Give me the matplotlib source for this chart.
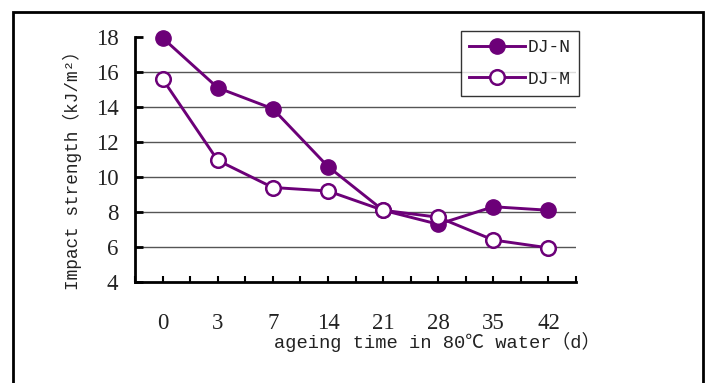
import numpy as np
import matplotlib.pyplot as plt
from matplotlib.patches import Rectangle
from matplotlib.lines import Line2D

# data
days = ['0', '3', '7', '14', '21', '28', '35', '42']
dj_n = [17.95, 15.1, 13.9, 10.6, 8.1, 7.3, 8.3, 8.1]
dj_m = [15.6, 10.95, 9.4, 9.2, 8.1, 7.7, 6.4, 5.95]
yticks = [4, 6, 8, 10, 12, 14, 16, 18]

purple = '#6c0078'
serif = ['Liberation Serif', 'DejaVu Serif']
mono = ['Liberation Mono', 'Noto Sans CJK SC', 'DejaVu Sans']

fig = plt.figure(figsize=(7.07, 3.83), dpi=100)
W, H = 707, 383

# outer chart frame
fig.patches.append(Rectangle((13 / W, -0.05), (703 - 13) / W, 1.05 - 12 / H,
                             transform=fig.transFigure, fill=False,
                             edgecolor='black', linewidth=2))

ax = fig.add_axes([135 / W, 1 - 282 / H, (576 - 135) / W, (282 - 37) / H])
x = np.arange(len(days))

ax.plot(x, dj_n, color=purple, lw=2.1, marker='o', ms=11,
        mfc=purple, mec=purple, zorder=3, clip_on=False)
ax.plot(x, dj_m, color=purple, lw=2.1, marker='o', ms=10.5,
        mfc='white', mec=purple, mew=1.8, zorder=3, clip_on=False)

ax.set_xlim(-0.5, len(days) - 0.5)
ax.set_ylim(4, 18)
ax.set_yticks(yticks)
ax.set_xticks(x)
ax.set_xticklabels(days)
ax.set_xticks(np.arange(-0.5, len(days)), minor=True)

# gridlines between the axis and the top tick
for y in yticks[1:-1]:
    ax.axhline(y, color='#555555', lw=1, zorder=1)

for s in ['top', 'right']:
    ax.spines[s].set_visible(False)
for s in ['left', 'bottom']:
    ax.spines[s].set_linewidth(2)

ax.tick_params(axis='y', direction='in', length=6, width=2, pad=12,
               labelsize=16.5)
ax.tick_params(axis='x', which='both', direction='in', length=4, width=1.5,
               pad=22, labelsize=16.5)
for lab in ax.get_xticklabels() + ax.get_yticklabels():
    lab.set_family(serif)
    lab.set_color('#222222')

fig.text(437 / W, 1 - 342 / H, 'ageing time in 80℃ water（d）',
         family=mono, fontsize=13.5, ha='center', va='center', color='#222222')
fig.text(72 / W, 1 - 166 / H, 'Impact strength（kJ/m²）',
         family=mono, fontsize=12.8, ha='center', va='center',
         rotation=90, color='#222222')

handles = [
    Line2D([], [], color=purple, lw=2.1, marker='o', ms=11, mfc=purple, mec=purple),
    Line2D([], [], color=purple, lw=2.1, marker='o', ms=10.5, mfc='white',
           mec=purple, mew=1.8),
]
leg = fig.legend(handles, ['DJ-N', 'DJ-M'], loc='upper left',
                 bbox_to_anchor=(461 / W, 1 - 31 / H),
                 prop={'family': mono, 'size': 13},
                 frameon=True, fancybox=False, handlelength=3.1,
                 handletextpad=0.15, borderpad=0.45, labelspacing=0.8,
                 borderaxespad=0)
leg.get_frame().set_edgecolor('black')
leg.get_frame().set_linewidth(1)
for t in leg.get_texts():
    t.set_color('#222222')

plt.savefig('out.png', dpi=100)
